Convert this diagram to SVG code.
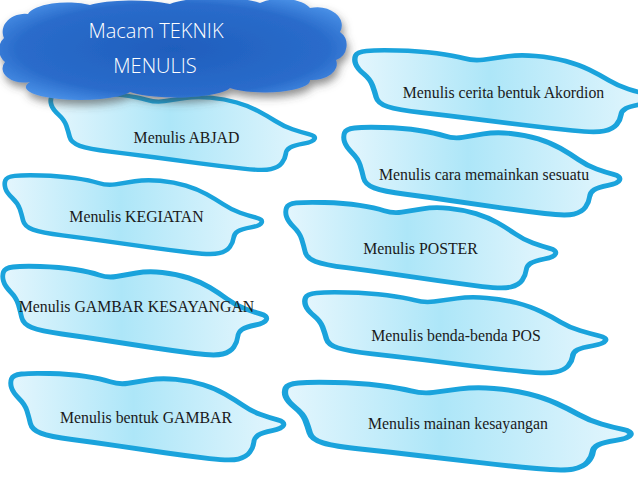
<svg xmlns="http://www.w3.org/2000/svg" width="638" height="479" viewBox="0 0 638 479">
<defs>
<linearGradient id="blobFill" x1="0" y1="0" x2="1" y2="0">
<stop offset="0" stop-color="#e4f6fd"/>
<stop offset="0.45" stop-color="#ade6f8"/>
<stop offset="1" stop-color="#e4f6fd"/>
</linearGradient>
<radialGradient id="cloudFill" cx="0.5" cy="0.5" r="0.62">
<stop offset="0" stop-color="#1f5ebd"/>
<stop offset="0.72" stop-color="#2a6ccb"/>
<stop offset="1" stop-color="#4f97ec"/>
</radialGradient>
<filter id="cloudShadow" x="-10%" y="-20%" width="125%" height="150%">
<feDropShadow dx="2" dy="5" stdDeviation="4" flood-color="#444" flood-opacity="0.6"/>
</filter>
<path id="blob" d="M1.5,6 Q3,2 11.5,1 Q20,0 40,0.5 Q60,1 76,3.5 Q92,6 101,9 Q110,12 119,10.5 Q128,9 140,7 Q152,5 167,6.5 Q182,8 194.5,12 Q207,16 216.5,21.5 Q226,27 234.5,33 Q243,39 252.5,42.5 Q262,46 269.5,48 Q277,50 275.5,53.5 Q274,57 264,59 Q254,61 250,63.5 Q246,66 245.5,71 Q245,76 241.5,81 Q238,86 230,88 Q222,90 201,87.5 Q180,85 156,81.5 Q132,78 108.5,74.5 Q85,71 62.5,68 Q40,65 31,61.5 Q22,58 20.5,51.5 Q19,45 17,38.5 Q15,32 9,26 Q3,20 1.5,15 Q0,10 1.5,6 Z"/>
</defs>
<style>
.b { fill: url(#blobFill); stroke: #1aa3dc; stroke-width: 5; stroke-linejoin: round; vector-effect: non-scaling-stroke; }
.t { font-family: "Liberation Serif", "Times New Roman", serif; font-size: 15.8px; fill: #1a1a1a; text-anchor: middle; }
.h { font-family: "Open Sans", "Liberation Sans", sans-serif; font-size: 20px; font-weight: 300; fill: #ffffff; text-anchor: middle; }
</style>
<rect width="638" height="479" fill="#ffffff"/>

<g id="n-abjad">
<use href="#blob" class="b" transform="translate(50,92) scale(0.960,0.876)"/>
<text class="t" x="186.5" y="143">Menulis ABJAD</text>
</g>
<g id="n-kegiatan">
<use href="#blob" class="b" transform="translate(4,175) scale(0.935,0.888)"/>
<text class="t" x="136.5" y="222">Menulis KEGIATAN</text>
</g>
<g id="n-gambar-kesayangan">
<use href="#blob" class="b" transform="translate(2,266) scale(0.960,1.0)"/>
<text class="t" x="136.5" y="312">Menulis GAMBAR KESAYANGAN</text>
</g>
<g id="n-bentuk-gambar">
<use href="#blob" class="b" transform="translate(10,373) scale(0.993,0.978)"/>
<text class="t" x="146" y="423">Menulis bentuk GAMBAR</text>
</g>
<g id="n-akordion">
<use href="#blob" class="b" transform="translate(354,50) scale(1.087,0.921)"/>
<text class="t" x="503.5" y="98">Menulis cerita bentuk Akordion</text>
</g>
<g id="n-cara">
<use href="#blob" class="b" transform="translate(343,127) scale(1.004,0.989)"/>
<text class="t" x="484" y="180">Menulis cara memainkan sesuatu</text>
</g>
<g id="n-poster">
<use href="#blob" class="b" transform="translate(285,202) scale(0.982,0.966)"/>
<text class="t" x="420.5" y="254">Menulis POSTER</text>
</g>
<g id="n-benda-pos">
<use href="#blob" class="b" transform="translate(304,292) scale(1.094,0.910)"/>
<text class="t" x="456" y="341">Menulis benda-benda POS</text>
</g>
<g id="n-mainan">
<use href="#blob" class="b" transform="translate(284,382) scale(1.257,0.989)"/>
<text class="t" x="458" y="429">Menulis mainan kesayangan</text>
</g>

<g id="title">
<path filter="url(#cloudShadow)" fill="url(#cloudFill)" d="M30,82 A22,14 0 0 1 5,62 A16,16 0 0 1 4,38 A22,18 0 0 1 28,14 A40,14 0 0 1 90,5 A50,10 0 0 1 170,4 A50,10 0 0 1 260,3 A30,14 0 0 1 310,8 A25,18 0 0 1 340,32 A16,16 0 0 1 336,60 A25,16 0 0 1 310,80 A45,12 0 0 1 230,88 A55,12 0 0 1 130,92 A50,12 0 0 1 30,82 Z"/>
<text class="h" x="156" y="38">Macam TEKNIK</text>
<text class="h" x="155" y="73">MENULIS</text>
</g>

<g id="connectors"/>
</svg>
